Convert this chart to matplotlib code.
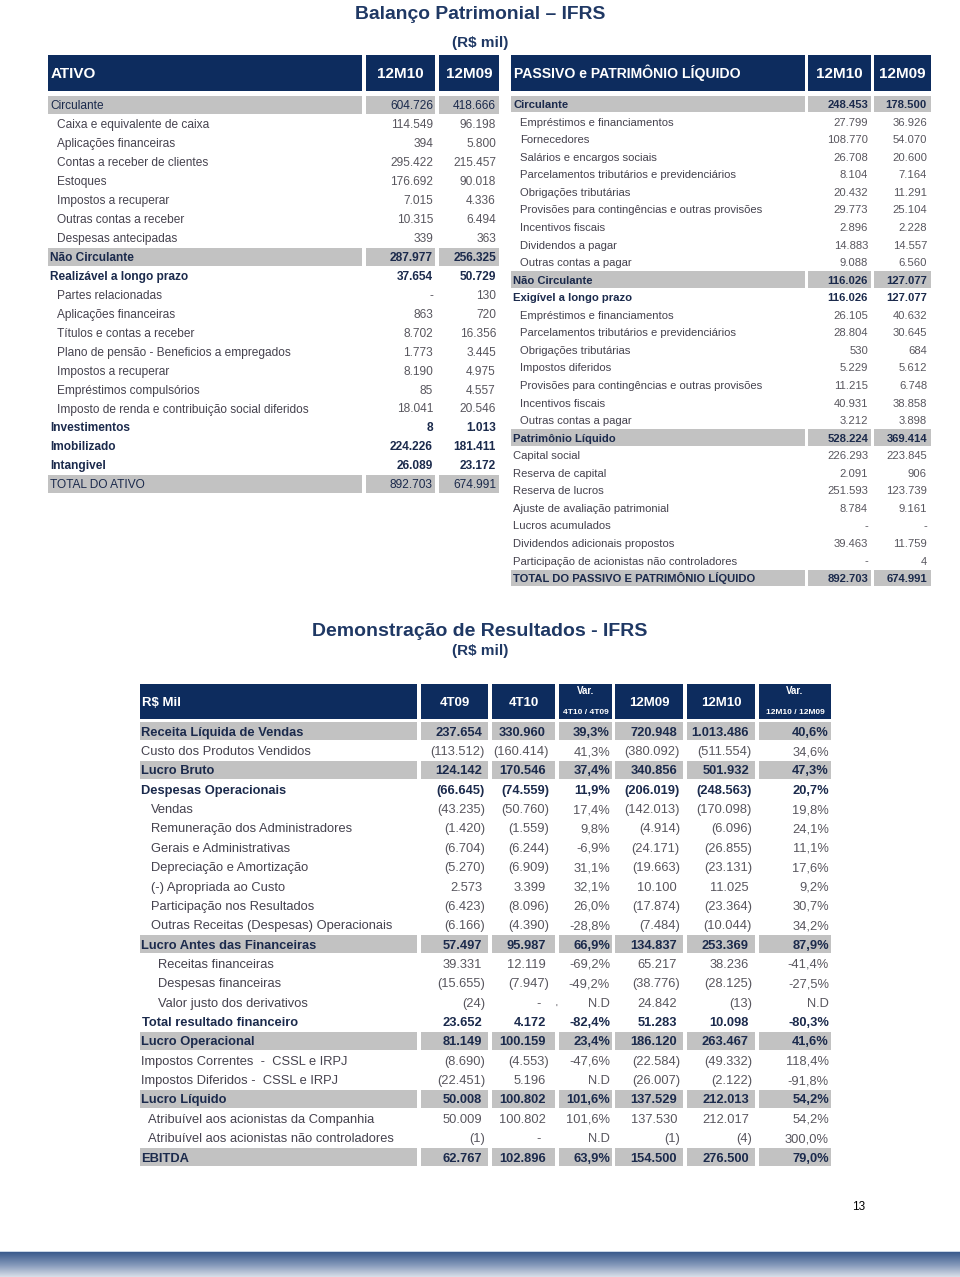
import numpy as np
import matplotlib.pyplot as plt
from matplotlib.patches import Rectangle
from matplotlib.colors import LinearSegmentedColormap

plt.rcParams['font.family'] = ['Liberation Sans', 'DejaVu Sans']

# ---------------- data: Balanço - Ativo ----------------
ativo_labels = ["Circulante", "Caixa e equivalente de caixa", "Aplicações financeiras",
                "Contas a receber de clientes", "Estoques", "Impostos a recuperar",
                "Outras contas a receber", "Despesas antecipadas", "Não Circulante",
                "Realizável a longo prazo", "Partes relacionadas", "Aplicações financeiras",
                "Títulos e contas a receber", "Plano de pensão - Beneficios a empregados",
                "Impostos a recuperar", "Empréstimos compulsórios",
                "Imposto de renda e contribuição social diferidos", "Investimentos",
                "Imobilizado", "Intangivel", "TOTAL DO ATIVO"]
ativo_12m10 = [604726, 114549, 394, 295422, 176692, 7015, 10315, 339, 287977, 37654,
               None, 863, 8702, 1773, 8190, 85, 18041, 8, 224226, 26089, 892703]
ativo_12m09 = [418666, 96198, 5800, 215457, 90018, 4336, 6494, 363, 256325, 50729,
               130, 720, 16356, 3445, 4975, 4557, 20546, 1013, 181411, 23172, 674991]

# ---------------- data: Balanço - Passivo ----------------
passivo_labels = ["Circulante", "Empréstimos e financiamentos", "Fornecedores",
                  "Salários e encargos sociais", "Parcelamentos tributários e previdenciários",
                  "Obrigações tributárias", "Provisões para contingências e outras provisões",
                  "Incentivos fiscais", "Dividendos a pagar", "Outras contas a pagar",
                  "Não Circulante", "Exigível a longo prazo", "Empréstimos e financiamentos",
                  "Parcelamentos tributários e previdenciários", "Obrigações tributárias",
                  "Impostos diferidos", "Provisões para contingências e outras provisões",
                  "Incentivos fiscais", "Outras contas a pagar", "Patrimônio Líquido",
                  "Capital social", "Reserva de capital", "Reserva de lucros",
                  "Ajuste de avaliação patrimonial", "Lucros acumulados",
                  "Dividendos adicionais propostos",
                  "Participação de acionistas não controladores",
                  "TOTAL DO PASSIVO E PATRIMÔNIO LÍQUIDO"]
passivo_12m10 = [248453, 27799, 108770, 26708, 8104, 20432, 29773, 2896, 14883, 9088,
                 116026, 116026, 26105, 28804, 530, 5229, 11215, 40931, 3212, 528224,
                 226293, 2091, 251593, 8784, None, 39463, None, 892703]
passivo_12m09 = [178500, 36926, 54070, 20600, 7164, 11291, 25104, 2228, 14557, 6560,
                 127077, 127077, 40632, 30645, 684, 5612, 6748, 38858, 3898, 369414,
                 223845, 906, 123739, 9161, None, 11759, 4, 674991]

# ---------------- data: Demonstração de Resultados ----------------
dre_labels = ["Receita Líquida de Vendas", "Custo dos Produtos Vendidos", "Lucro Bruto",
              "Despesas Operacionais", "Vendas", "Remuneração dos Administradores",
              "Gerais e Administrativas", "Depreciação e Amortização",
              "(-) Apropriada ao Custo", "Participação nos Resultados",
              "Outras Receitas (Despesas) Operacionais", "Lucro Antes das Financeiras",
              "Receitas financeiras", "Despesas financeiras", "Valor justo dos derivativos",
              "Total resultado financeiro", "Lucro Operacional",
              "Impostos Correntes  -  CSSL e IRPJ", "Impostos Diferidos -  CSSL e IRPJ",
              "Lucro Líquido", "Atribuível aos acionistas da Companhia",
              "Atribuível aos acionistas não controladores", "EBITDA"]
dre_4t09 = [237654, -113512, 124142, -66645, -43235, -1420, -6704, -5270, 2573, -6423,
            -6166, 57497, 39331, -15655, -24, 23652, 81149, -8690, -22451, 50008, 50009,
            -1, 62767]
dre_4t10 = [330960, -160414, 170546, -74559, -50760, -1559, -6244, -6909, 3399, -8096,
            -4390, 95987, 12119, -7947, None, 4172, 100159, -4553, 5196, 100802, 100802,
            None, 102896]
dre_var_4t = [39.3, 41.3, 37.4, 11.9, 17.4, 9.8, -6.9, 31.1, 32.1, 26.0, -28.8, 66.9,
              -69.2, -49.2, None, -82.4, 23.4, -47.6, None, 101.6, 101.6, None, 63.9]
dre_12m09 = [720948, -380092, 340856, -206019, -142013, -4914, -24171, -19663, 10100,
             -17874, -7484, 134837, 65217, -38776, 24842, 51283, 186120, -22584, -26007,
             137529, 137530, -1, 154500]
dre_12m10 = [1013486, -511554, 501932, -248563, -170098, -6096, -26855, -23131, 11025,
             -23364, -10044, 253369, 38236, -28125, -13, 10098, 263467, -49332, -2122,
             212013, 212017, -4, 276500]
dre_var_12m = [40.6, 34.6, 47.3, 20.7, 19.8, 24.1, 11.1, 17.6, 9.2, 30.7, 34.2, 87.9,
               -41.4, -27.5, None, -80.3, 41.6, 118.4, -91.8, 54.2, 54.2, 300.0, 79.0]

# ---------------- styles ----------------
NAVY = '#0D2C5E'
GRAY = '#C2C2C2'
TXT = '#45424E'
VAL = '#58565E'
DARK = '#1B2A4C'


def fmt_num(v):
    if v is None:
        return '-'
    s = f"{abs(v):,}".replace(',', '.')
    return f"({s})" if v < 0 else s


def fmt_pct(v):
    if v is None:
        return 'N.D'
    return f"{v:.1f}".replace('.', ',') + '%'


fig = plt.figure(figsize=(9.6, 12.77), dpi=100)
ax = fig.add_axes([0, 0, 1, 1])
ax.set_xlim(0, 960)
ax.set_ylim(1277, 0)
ax.axis('off')


def box(x0, x1, yc, h, color):
    ax.add_patch(Rectangle((x0, yc - h / 2), x1 - x0, h, facecolor=color,
                           edgecolor='none'))


def put(x, y, s, fs, **kw):
    # vertically centre capital letters on y using the baseline
    ax.text(x, y + 0.36 * fs * 100 / 72, s, va='baseline', fontsize=fs, **kw)


# ---------------- titles ----------------
put(480, 12, 'Balanço Patrimonial – IFRS', 13.9, ha='center',
    fontweight='bold', color='#1F3864')
put(480, 41, '(R$ mil)', 11, ha='center', fontweight='bold', color='#1F3864')
put(480, 629, 'Demonstração de Resultados - IFRS', 14, ha='center',
    fontweight='bold', color='#1F3864')
put(480, 650, '(R$ mil)', 11, ha='center', fontweight='bold', color='#1F3864')


def balance_table(title, labels, v1, v2, cols, rights, y0, step, band_h, fs,
                  bands, bolds, indents, hfs):
    # header
    for (a, b) in cols:
        box(a, b, 73, 36, NAVY)
    put(cols[0][0] + 3, 73, title, hfs, ha='left', color='white', fontweight='bold')
    for (a, b), t in zip(cols[1:], ['12M10', '12M09']):
        put((a + b) / 2, 73, t, 11, ha='center', color='white', fontweight='bold')
    for i, lab in enumerate(labels):
        y = y0 + i * step
        if i in bands:
            for (a, b) in cols:
                box(a, b, y, band_h, GRAY)
        strong = i in bands or i in bolds
        w = 'bold' if i in bolds else 'normal'
        c = DARK if strong else TXT
        put(cols[0][0] + 2 + indents[i], y, lab, fs, ha='left', color=c, fontweight=w)
        for r, v in zip(rights, [v1[i], v2[i]]):
            put(r, y, fmt_num(v), fs, ha='right',
                color=DARK if strong else VAL, fontweight=w)


ativo_bands = {0, 8, 20}
ativo_bolds = {8, 9, 17, 18, 19}
ativo_indent = [0 if i in ativo_bands or i in ativo_bolds else 7
                for i in range(len(ativo_labels))]
balance_table('ATIVO', ativo_labels, ativo_12m10, ativo_12m09,
              [(48, 362), (366, 435), (439, 499)], [433, 496],
              105, 18.95, 18, 8.6, ativo_bands, ativo_bolds, ativo_indent, 11)

passivo_bands = {0, 10, 19, 27}
passivo_bolds = {0, 10, 11, 19, 27}
passivo_indent = [7 if (1 <= i <= 9 or 12 <= i <= 18) else 0
                  for i in range(len(passivo_labels))]
balance_table('PASSIVO e PATRIMÔNIO LÍQUIDO', passivo_labels, passivo_12m10,
              passivo_12m09, [(511, 805), (808, 871), (874, 931)], [868, 927],
              104, 17.56, 16.5, 8.1, passivo_bands, passivo_bolds, passivo_indent,
              10.1)

# ---------------- Demonstração de Resultados ----------------
dre_cols = [(140, 417), (421, 488), (492, 555), (559, 612), (615, 683), (687, 755),
            (759, 831)]
dre_rights = [485, 549, 610, 680, 752, 829]
for (a, b) in dre_cols:
    box(a, b, 701.5, 35, NAVY)
put(142, 701, 'R$ Mil', 9.5, ha='left', color='white', fontweight='bold')
for k, t in [(1, '4T09'), (2, '4T10'), (4, '12M09'), (5, '12M10')]:
    a, b = dre_cols[k]
    put((a + b) / 2, 701, t, 9.5, ha='center', color='white', fontweight='bold')
for k, t in [(3, '4T10 / 4T09'), (6, '12M10 / 12M09')]:
    a, b = dre_cols[k]
    put((a + b) / 2, 691, 'Var.', 7, ha='center', color='white', fontweight='bold')
    put((a + b) / 2, 711, t, 6, ha='center', color='white', fontweight='bold')

dre_bands = {0, 2, 11, 16, 19, 22}
dre_bolds = {0, 2, 3, 11, 15, 16, 19, 22}
dre_indent = [0, 0, 0, 0, 10, 10, 10, 10, 10, 10, 10, 0, 17, 17, 17, 1, 0, 0, 0, 0,
              7, 7, 0]
y0, step = 731, 19.36
for i, lab in enumerate(dre_labels):
    y = y0 + i * step
    if i in dre_bands:
        for (a, b) in dre_cols:
            box(a, b, y, 18, GRAY)
    strong = i in dre_bolds
    w = 'bold' if strong else 'normal'
    put(141 + dre_indent[i], y, lab, 9.3, ha='left',
        color=DARK if strong else TXT, fontweight=w)
    vals = [fmt_num(dre_4t09[i]), fmt_num(dre_4t10[i]), fmt_pct(dre_var_4t[i]),
            fmt_num(dre_12m09[i]), fmt_num(dre_12m10[i]), fmt_pct(dre_var_12m[i])]
    for r, s in zip(dre_rights, vals):
        if s == '-':
            r -= 8
        elif not s.endswith(')') and not s.endswith('%') and s != 'N.D':
            r -= 3
        put(r, y, s, 9.3, ha='right', color=DARK if strong else VAL, fontweight=w)
put(556, 1008, "'", 7, ha='center', color=VAL)

# ---------------- footer ----------------
put(859, 1206, '13', 8.5, ha='center', color='black')
grad = np.linspace(0, 1, 60).reshape(-1, 1)
cmap = LinearSegmentedColormap.from_list('foot', ['#3A5A8C', '#8196B8', '#D9DFE9'])
ax.imshow(grad, extent=(0, 960, 1277, 1252), aspect='auto', cmap=cmap,
          origin='upper', zorder=0)
ax.add_patch(Rectangle((0, 1250.5), 960, 1.5, facecolor='#C9D5E5', edgecolor='none'))
ax.set_xlim(0, 960)
ax.set_ylim(1277, 0)

fig.savefig('out.png', dpi=100, facecolor='white')
